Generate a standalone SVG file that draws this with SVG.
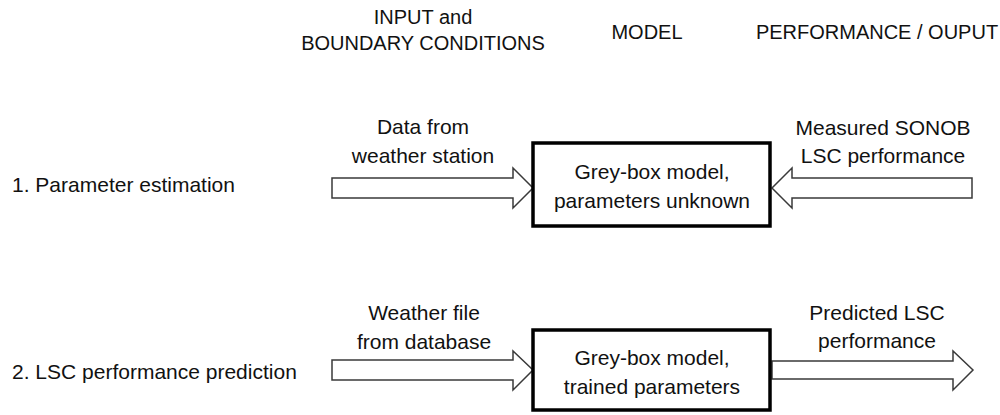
<svg xmlns="http://www.w3.org/2000/svg" width="1000" height="415" viewBox="0 0 1000 415">
  <style>
    text { font-family: "Liberation Sans", Arial, sans-serif; fill: #111; }
    .hdr { font-size: 20px; text-anchor: middle; }
    .lbl { font-size: 21px; }
    .txt { font-size: 21px; text-anchor: middle; }
    .box { fill: #fff; stroke: #000; stroke-width: 3.5; }
    .arrow { fill: #fff; stroke: #3a3a3a; stroke-width: 1.5; stroke-linejoin: miter; }
  </style>

  <rect width="1000" height="415" fill="#fff"/>

  <!-- column headings -->
  <g id="headings">
    <text class="hdr" x="423" y="24">INPUT and</text>
    <text class="hdr" x="423" y="50">BOUNDARY CONDITIONS</text>
    <text class="hdr" x="647" y="39">MODEL</text>
    <text class="hdr" x="877" y="39">PERFORMANCE / OUPUT</text>
  </g>

  <!-- row labels -->
  <g id="row-labels">
    <text class="lbl" x="12" y="192">1. Parameter estimation</text>
    <text class="lbl" x="12" y="379">2. LSC performance prediction</text>
  </g>

  <!-- block arrows -->
  <g id="connectors">
    <polygon class="arrow" points="332,178 513,178 513,168 533,188 513,208 513,198 332,198"/>
    <polygon class="arrow" points="972,178 792,178 792,168 772,188 792,208 792,198 972,198"/>
    <polygon class="arrow" points="332,360 513,360 513,351 533,370 513,390 513,380 332,380"/>
    <polygon class="arrow" points="772,361 953,361 953,351 973,370 953,390 953,379 772,379"/>
  </g>

  <!-- arrow captions -->
  <g id="label-weather-station">
    <text class="txt" x="423" y="134">Data from</text>
    <text class="txt" x="423" y="163">weather station</text>
  </g>
  <g id="label-measured">
    <text class="txt" x="883" y="135">Measured SONOB</text>
    <text class="txt" x="883" y="163">LSC performance</text>
  </g>
  <g id="label-weather-file">
    <text class="txt" x="424" y="320">Weather file</text>
    <text class="txt" x="424" y="349">from database</text>
  </g>
  <g id="label-predicted">
    <text class="txt" x="877" y="320">Predicted LSC</text>
    <text class="txt" x="877" y="348">performance</text>
  </g>

  <!-- model boxes -->
  <g id="model-unknown">
    <rect class="box" x="533" y="143" width="237" height="83"/>
    <text class="txt" x="652" y="179">Grey-box model,</text>
    <text class="txt" x="652" y="208">parameters unknown</text>
  </g>
  <g id="model-trained">
    <rect class="box" x="533" y="330" width="237" height="80"/>
    <text class="txt" x="652" y="365">Grey-box model,</text>
    <text class="txt" x="652" y="394">trained parameters</text>
  </g>
</svg>
